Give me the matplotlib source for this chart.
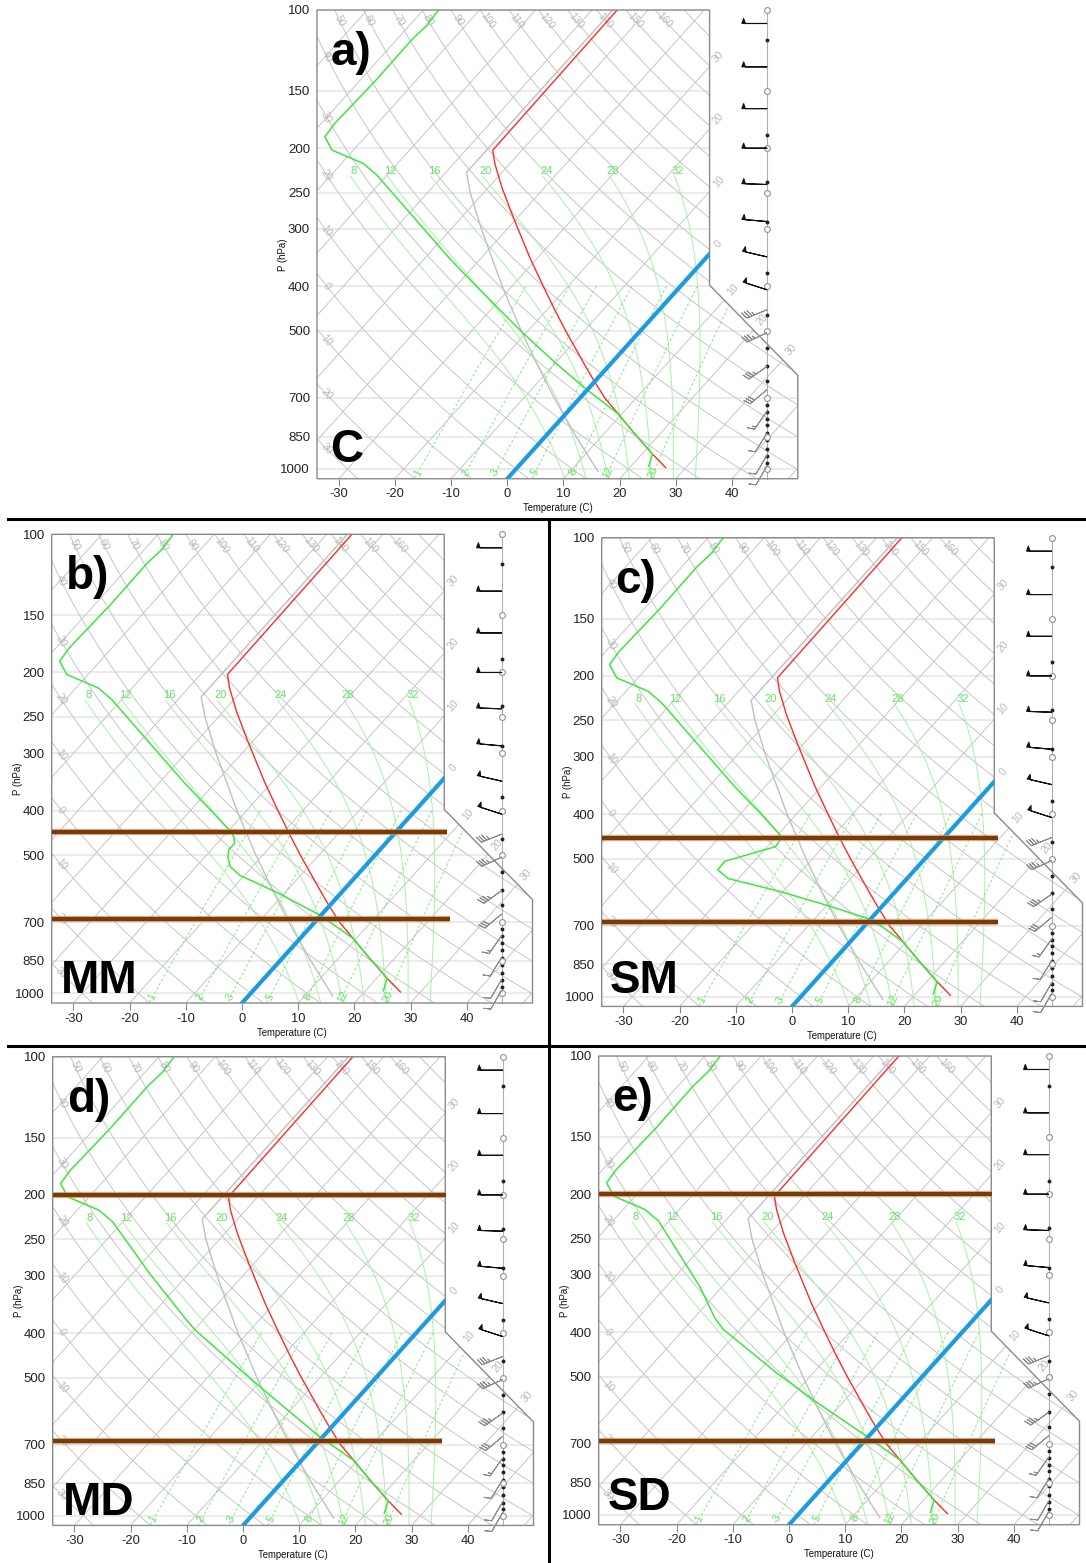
import numpy as np
import matplotlib
matplotlib.use("Agg")
import matplotlib.pyplot as plt
from matplotlib.patches import Polygon
from matplotlib.lines import Line2D
from matplotlib.ticker import NullLocator

plt.rcParams['font.family'] = ['Liberation Sans', 'DejaVu Sans']

W, H = 1086, 1563
PX_PER_C = 5.619          # horizontal px per deg C on the bottom scale
PX_PER_DEC = 459.0        # vertical px per decade of pressure
SKEW = 73.5               # deg C shift of an isotherm per decade of pressure
P_BOT, P_TOP = 1050.0, 100.0
X_LEFT, X_BOX, X_RIGHT = -33.87, 36.0, 51.7
P_NOTCH_TOP, P_NOTCH_BOT = 397.6, 625.0

# ---- diagram background values ----
P_LEVELS = [100, 150, 200, 250, 300, 400, 500, 700, 850, 1000]
T_TICKS = [-30, -20, -10, 0, 10, 20, 30, 40]
ISOTHERMS = list(range(-110, 60, 10))
DRY_THETAS = list(range(-40, 200, 10))
DRY_LEFT_LABELS = [40, 30, 20, 10, 0, -10, -20, -30]
DRY_TOP_LABELS = [50, 60, 70, 80, 90, 100, 110, 120, 130, 140, 150, 160]
ISO_RIGHT_LABELS = [-30, -20, -10, 0, 10, 20, 30]
MOIST_THETAW = [8, 12, 16, 20, 24, 28, 32]
MIX_RATIOS = [1, 2, 3, 5, 8, 12, 20]        # g/kg

# ---- sounding (same in all panels) ----
TEMP_P = [993, 928, 833, 759, 700, 637, 600, 500, 450, 400, 347, 282, 243, 216, 202, 100]
TEMP_T = [26.4, 21.9, 15.1, 9.4, 4.4, -0.7, -3.85, -13.3, -18.6, -24.4, -31.3, -40.95, -47.7, -52.7, -55.2, -55.5]
STD_P = [1013, 1000, 850, 700, 600, 500, 400, 300, 250, 226, 100]
STD_T = [15.0, 14.3, 5.5, -4.6, -12.3, -21.2, -31.7, -44.6, -52.4, -56.3, -56.3]
FREEZE_T = 0.0

# dewpoint: shared top / bottom, panel-specific middle
DEW_TOP_P = [100, 108, 116, 143, 177, 189, 202, 216, 229]
DEW_TOP_T = [-87.3, -86.9, -87.3, -87.2, -87.6, -87.2, -83.8, -76.1, -71.8]
DEW_BOT_P = [759, 833, 928, 988]
DEW_BOT_T = [9.4, 15.1, 21.9, 23.2]
DEW_A_P = [348, 400, 500, 588, 669]
DEW_A_T = [-45.5, -36.3, -21.3, -9.9, -0.4]
DEW_B_P = [348, 400, 446, 456, 471, 487, 506, 529, 553, 604, 675]
DEW_B_T = [-45.5, -36.3, -29.2, -28.1, -26.9, -26.9, -25.8, -24.0, -20.9, -11.3, -0.3]
DEW_C_P = [348, 400, 449, 471, 507, 529, 553, 590, 634, 674, 699, 751]
DEW_C_T = [-45.5, -36.3, -28.9, -28.5, -35.2, -35.1, -31.8, -20.5, -9.6, -0.9, 2.7, 8.5]
DEW_D_P = [297, 375, 394, 481, 546, 669]
DEW_D_T = [-56.9, -42.9, -39.8, -25.4, -16.1, -1.0]
DEW_E_P = [318, 373, 394, 491, 568, 670]
DEW_E_T = [-54.0, -46.2, -43.0, -26.4, -14.7, -0.8]

# highlighted layers (hPa)
BROWN_B = [446, 688]
BROWN_C = [452, 688]
BROWN_D = [200, 689]
BROWN_E = [200, 689]

# winds
BARB_X = 46.2
BARB_P = [107, 133, 164, 200, 240, 289, 345, 407, 450, 505, 598, 672, 749, 836, 933, 985]
BARB_SPD = [50, 50, 50, 50, 50, 50, 50, 50, 35, 35, 35, 30, 15, 10, 10, 10]
BARB_DIR = [270, 270, 270, 270, 272, 275, 283, 288, 248, 245, 235, 230, 215, 212, 210, 210]
DOT_P = [116, 187, 237, 289, 374, 461, 545, 595, 643, 700, 725, 752, 777, 803, 836, 866, 903, 937, 969, 1001]
CIRCLE_P = [100, 150, 200, 250, 300, 400, 500, 700, 850, 1000]

PANELS = [
    dict(x0=507.3, y100=10.0, letter='a)', code='C', code_dy=16.5, code_dx=13,
         dew_p=DEW_A_P, dew_t=DEW_A_T, brown=[], brown_end=[]),
    dict(x0=242.0, y100=534.3, letter='b)', code='MM', code_dy=10.5, code_dx=9,
         dew_p=DEW_B_P, dew_t=DEW_B_T, brown=BROWN_B, brown_end=[36.5, 37.0]),
    dict(x0=792.0, y100=537.7, letter='c)', code='SM', code_dy=13.0, code_dx=8,
         dew_p=DEW_C_P, dew_t=DEW_C_T, brown=BROWN_C, brown_end=[36.7, 36.7]),
    dict(x0=243.0, y100=1056.7, letter='d)', code='MD', code_dy=10.5, code_dx=10,
         dew_p=DEW_D_P, dew_t=DEW_D_T, brown=BROWN_D, brown_end=[36.1, 35.4]),
    dict(x0=789.0, y100=1056.0, letter='e)', code='SD', code_dy=14.5, code_dx=9,
         dew_p=DEW_E_P, dew_t=DEW_E_T, brown=BROWN_E, brown_end=[36.2, 36.6]),
]

RD, CP, LV, EPS = 287.04, 1005.7, 2.501e6, 0.622
GRAY_LINE = '#c6c6c6'
GRAY_TXT = '#b8b8b8'
GREEN_BG = '#aaf0aa'
GREEN_TXT = '#66e466'


def skx(t, p):
    return np.asarray(t, float) + SKEW * np.log10(P_BOT / np.asarray(p, float))


def angle(x1, p1, x2, p2):
    dx = (x2 - x1) * PX_PER_C
    dy = (np.log10(p1) - np.log10(p2)) * PX_PER_DEC
    return np.degrees(np.arctan2(dy, dx))


def dry_t(theta, p):
    return (theta + 273.15) * (np.asarray(p) / 1000.0) ** 0.2857 - 273.15


def moist_adiabat(tw, p_end):
    def f(T, p):
        tc = T - 273.15
        es = 6.112 * np.exp(17.67 * tc / (tc + 243.5))
        rs = EPS * es / (p - es)
        return (RD * T + LV * rs) / (CP + LV * LV * rs * EPS / (RD * T * T)) / p

    def run(p0, p1, n):
        ps = np.linspace(p0, p1, n)
        T = tw + 273.15
        out = [T]
        for i in range(n - 1):
            h = ps[i + 1] - ps[i]
            k1 = f(T, ps[i])
            k2 = f(T + 0.5 * h * k1, ps[i] + 0.5 * h)
            k3 = f(T + 0.5 * h * k2, ps[i] + 0.5 * h)
            k4 = f(T + h * k3, ps[i + 1])
            T = T + h * (k1 + 2 * k2 + 2 * k3 + k4) / 6
            out.append(T)
        return ps, np.array(out)

    pu, tu = run(1000.0, p_end, 300)
    pd, td = run(1000.0, P_BOT, 10)
    return (np.concatenate([pd[::-1], pu[1:]]),
            np.concatenate([td[::-1], tu[1:]]) - 273.15)


def mix_t(w_gkg, p):
    w = w_gkg / 1000.0
    es = w * np.asarray(p) / (EPS + w)
    a = np.log(es / 6.112)
    return 243.5 * a / (17.67 - a)


def draw_panel(fig, cfg):
    left = cfg['x0'] + X_LEFT * PX_PER_C
    right = cfg['x0'] + X_RIGHT * PX_PER_C
    top = cfg['y100']
    bottom = top + PX_PER_DEC * np.log10(P_BOT / P_TOP)
    ax = fig.add_axes([left / W, 1 - bottom / H, (right - left) / W, (bottom - top) / H])
    axw, axh = right - left, bottom - top
    ax.set_yscale('log')
    ax.set_xlim(X_LEFT, X_RIGHT)
    ax.set_ylim(P_BOT, P_TOP)
    for s in ax.spines.values():
        s.set_visible(False)
    ax.patch.set_alpha(0)

    outline = [(X_LEFT, P_TOP), (X_BOX, P_TOP), (X_BOX, P_NOTCH_TOP), (X_RIGHT, P_NOTCH_BOT),
               (X_RIGHT, P_BOT), (X_LEFT, P_BOT)]
    clip = Polygon(outline, closed=True, transform=ax.transData, facecolor='none', edgecolor='none')
    ax.add_patch(clip)

    def cl(lines):
        for ln in lines:
            ln.set_clip_path(clip)

    pp = np.logspace(np.log10(P_TOP), np.log10(P_BOT), 200)

    for p in P_LEVELS:
        cl(ax.plot([X_LEFT, X_RIGHT], [p, p], color='#e6e6e6', lw=1.1, zorder=1))
    for t in ISOTHERMS:
        cl(ax.plot(skx([t, t], [P_BOT, P_TOP]), [P_BOT, P_TOP], color=GRAY_LINE, lw=0.7, zorder=1))
    for th in DRY_THETAS:
        cl(ax.plot(skx(dry_t(th, pp), pp), pp, color=GRAY_LINE, lw=0.7, zorder=1))
    for tw in MOIST_THETAW:
        mp, mt = moist_adiabat(tw, 230.0)
        cl(ax.plot(skx(mt, mp), mp, color=GREEN_BG, lw=0.7, zorder=2))
        ax.text(skx(mt[-1], 230.0) + 0.6, 230.0, str(tw), color=GREEN_TXT, fontsize=8,
                ha='center', va='bottom', zorder=3)
    pw = np.logspace(np.log10(400.0), np.log10(P_BOT), 60)
    for w in MIX_RATIOS:
        cl(ax.plot(skx(mix_t(w, pw), pw), pw, color='#7aea7a', lw=0.7, ls=(0, (2.5, 2.5)), zorder=2))
        pl = 1018.0
        xl = skx(mix_t(w, pl), pl)
        rot = angle(xl, pl, skx(mix_t(w, pl * 0.95), pl * 0.95), pl * 0.95)
        ax.text(xl, pl, str(w), color=GREEN_TXT, fontsize=7.5, rotation=rot,
                ha='center', va='center', zorder=3)

    # dry adiabat labels (left edge and top edge)
    pf = np.logspace(np.log10(P_TOP), np.log10(P_BOT), 2000)
    for th in DRY_LEFT_LABELS:
        xs = skx(dry_t(th, pf), pf)
        pl = float(np.interp(X_LEFT + 1.7, xs, pf))
        rot = angle(X_LEFT + 1.7, pl, skx(dry_t(th, pl * 1.05), pl * 1.05), pl * 1.05)
        ax.text(X_LEFT + 1.7, pl, str(abs(th)), color=GRAY_TXT, fontsize=7.5, rotation=rot,
                ha='center', va='center', zorder=3)
    for th in DRY_TOP_LABELS:
        pl = 105.5
        xl = skx(dry_t(th, pl), pl)
        rot = angle(xl, pl, skx(dry_t(th, pl * 1.05), pl * 1.05), pl * 1.05)
        ax.text(xl, pl, str(th), color=GRAY_TXT, fontsize=7.5, rotation=rot,
                ha='center', va='center', zorder=3)
    # isotherm labels at the right boundary
    u1, u2 = np.log10(P_NOTCH_TOP), np.log10(P_NOTCH_BOT)
    for t in ISO_RIGHT_LABELS:
        pe = P_BOT / 10 ** ((X_BOX - t) / SKEW)
        if pe > P_NOTCH_TOP:
            k = (X_RIGHT - X_BOX) / (u2 - u1)
            u = (t + SKEW * np.log10(P_BOT) - X_BOX + k * u1) / (k + SKEW)
            pe = 10 ** u
        xe = skx(t, pe)
        xl, pl = xe + 1.6, pe / 10 ** (1.6 / SKEW)
        ax.text(xl, pl, str(abs(t)), color=GRAY_TXT, fontsize=7.5, rotation=angle(xe, pe, xl, pl),
                ha='center', va='center', zorder=3)

    ax.add_patch(Polygon(outline, closed=True, transform=ax.transData, facecolor='none',
                         edgecolor='#8a8a8a', lw=1.0, zorder=6, clip_on=False))

    # sounding
    cl(ax.plot(skx(STD_T, STD_P), STD_P, color='#c0c0c0', lw=1.0, zorder=4))
    dew_p = DEW_TOP_P + cfg['dew_p'] + DEW_BOT_P
    dew_t = DEW_TOP_T + cfg['dew_t'] + DEW_BOT_T
    cl(ax.plot(skx(TEMP_T, TEMP_P), TEMP_P, color='#ff2a2a', lw=1.0, zorder=5))
    cl(ax.plot(skx(dew_t, dew_p), dew_p, color='#3ee63e', lw=1.1, zorder=5))
    cl(ax.plot(skx([FREEZE_T] * 2, [P_BOT, P_TOP]), [P_BOT, P_TOP], color='#1e9be0', lw=3.0,
               solid_capstyle='round', zorder=6))
    for p, xe in zip(cfg['brown'], cfg['brown_end']):
        ax.plot([X_LEFT, xe], [p, p], color='#c49a6c', lw=4.6, alpha=0.7, zorder=7, clip_on=False,
                solid_capstyle='butt')
        ax.plot([X_LEFT, xe], [p, p], color='#7a3b08', lw=3.0, zorder=7, clip_on=False,
                solid_capstyle='butt')

    # wind column
    ax.plot([BARB_X, BARB_X], [P_TOP, P_BOT], color='#b0b0b0', lw=0.8, zorder=5, clip_on=False)
    ax.plot([BARB_X] * len(DOT_P), DOT_P, 'o', ms=1.8, color='#222222', zorder=8, clip_on=False)
    ax.plot([BARB_X] * len(CIRCLE_P), CIRCLE_P, 'o', ms=4.2, mfc='white', mec='#909090', mew=0.8,
            zorder=8, clip_on=False)
    spd = np.array(BARB_SPD, float)
    d = np.radians(BARB_DIR)
    u, v = -spd * np.sin(d), -spd * np.cos(d)
    n_up = 8
    ax.barbs([BARB_X] * n_up, BARB_P[:n_up], u[:n_up], v[:n_up], length=6.0, lw=0.8,
             barbcolor='#111111', flagcolor='#111111', zorder=9, clip_on=False,
             sizes=dict(height=0.2, width=0.14, spacing=0.15))
    ax.barbs([BARB_X] * (len(BARB_P) - n_up), BARB_P[n_up:], u[n_up:], v[n_up:], length=5.6,
             lw=0.7, barbcolor='#8c8c8c', zorder=9, clip_on=False,
             sizes=dict(height=0.3, width=0.25, spacing=0.13))

    # axes decorations
    ax.yaxis.set_minor_locator(NullLocator())
    ax.set_yticks(P_LEVELS)
    ax.set_yticklabels([str(p) for p in P_LEVELS])
    ax.tick_params(axis='y', length=0, pad=5, labelsize=9.5, labelcolor='#222222')
    ax.set_xticks(T_TICKS)
    ax.set_xticklabels([str(t) for t in T_TICKS])
    ax.tick_params(axis='x', length=5, width=0.8, color='#8a8a8a', pad=2, labelsize=9.3,
                   labelcolor='#222222')
    ax.set_xlabel('Temperature (C)', fontsize=6.9, labelpad=2, color='#111111')
    ax.text(-34 / axw, 0.5 - 10 / axh, 'P (hPa)', transform=ax.transAxes, rotation=90,
            fontsize=6.9, ha='center', va='center', color='#111111')
    ax.text(14 / axw, 1 - 55 / axh, cfg['letter'], transform=ax.transAxes, fontsize=33,
            fontweight='bold', ha='left', va='baseline', zorder=10)
    ax.text(cfg['code_dx'] / axw, cfg['code_dy'] / axh, cfg['code'], transform=ax.transAxes,
            fontsize=33, fontweight='bold', ha='left', va='baseline', zorder=10)
    return ax


fig = plt.figure(figsize=(W / 100, H / 100), dpi=100)
for cfg in PANELS:
    draw_panel(fig, cfg)

# panel separators
for (x1, y1, x2, y2) in [(8, 518.5, W, 518.5), (8, 1046, W, 1046), (549, 518.5, 549, H)]:
    fig.add_artist(Line2D([x1 / W, x2 / W], [1 - y1 / H, 1 - y2 / H], transform=fig.transFigure,
                          color='black', lw=2.2))

fig.savefig('out.png', dpi=100)
